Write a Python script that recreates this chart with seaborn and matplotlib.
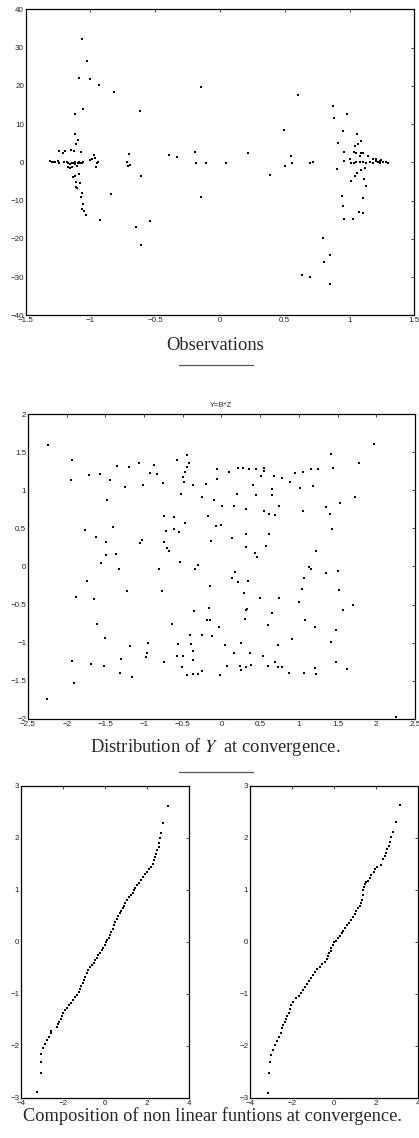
import numpy as np
import pandas as pd
import matplotlib
matplotlib.use("Agg")
import matplotlib.pyplot as plt
from matplotlib.lines import Line2D
from matplotlib.ticker import FuncFormatter
import seaborn as sns

# observations (top panel)
obs_x = [-1.064, -1.023, -1.087, -1.005, -0.933, -0.815, -1.059, -1.123, -1.116, -1.095,
         -1.108, -1.075, -1.150, -1.130, -1.240, -1.210, -1.197,
         -1.311, -1.298, -1.285, -1.272, -1.252, -1.242, -1.208, -1.183, -1.170, -1.157,
         -1.144, -1.131, -1.118, -1.098, -1.087, -1.077, -1.067, -1.054, -1.170, -1.157,
         -1.144, -1.123,
         -1.133, -1.118, -1.086, -1.100, -1.108, -1.108, -1.100, -1.082, -1.067, -1.075,
         -1.057, -1.062, -1.051, -1.031, -0.928,
         -1.000, -0.985, -0.972, -0.964, -0.950, -0.940, -0.960, -0.842,
         -0.720, -0.700, -0.710, -0.695, -0.621, -0.613, -0.652, -0.606, -0.544,
         -0.396, -0.334, -0.193, -0.188, -0.144, -0.144, -0.108, 0.046, 0.218, 0.388,
         0.496, 0.499, 0.550, 0.555, 0.599, 0.630, 0.692, 0.697, 0.720,
         0.794, 0.805, 0.848, 0.846, 0.871, 0.881, 0.907, 0.915, 0.977, 0.946, 0.959,
         0.961, 0.941, 0.951, 0.959, 1.008, 1.028, 1.003,
         1.059, 1.044, 1.062, 1.085, 1.033, 1.054, 1.090, 1.108, 1.140, 1.080, 1.044,
         1.059, 1.090, 1.110, 1.120, 1.105, 1.077, 1.105, 1.126,
         1.015, 1.033, 1.054, 1.080, 1.105, 1.131, 1.157, 1.183, 1.203, 1.221, 1.239,
         1.260, 1.280, 1.298, 1.183, 1.208, 1.234, 1.247]
obs_y = [32.3, 26.5, 22.1, 21.9, 20.3, 18.5, 13.9, 12.6, 7.5, 5.8,
         4.8, 2.6, 3.2, 3.0, 3.0, 2.4, 3.0,
         0.35, 0.09, 0.17, 0.0, 0.26, -0.09, 0.0, 0.0, -0.26, -0.44,
         -0.09, -0.26, 0.0, -0.17, 0.0, -0.26, -0.09, 0.09, -1.13, -1.57,
         -1.31, -0.52,
         -3.9, -3.7, -3.0, -1.0, -5.1, -6.4, -6.7, -5.3, -7.9, -9.1,
         -10.8, -12.2, -12.7, -13.8, -15.1,
         0.6, 1.0, 1.8, 1.2, -0.1, 0.0, -1.1, -8.3,
         0.2, 2.2, -0.9, -0.6, 13.3, -3.6, -16.8, -21.5, -15.3,
         2.0, 1.5, 2.7, -0.3, 19.7, -9.0, -0.1, -0.1, 2.4, -3.2,
         8.5, -1.0, 1.6, -0.1, 17.5, -29.4, -0.1, -29.9, 0.2,
         -19.7, -26.0, -24.1, -31.9, 14.8, 11.6, -1.8, 5.1, 12.7, 8.2, 2.8,
         0.4, -8.7, -11.4, -14.7, -4.9, -14.7, 0.9,
         7.4, 4.4, 4.7, 5.5, 2.8, 2.4, 2.4, 2.4, 1.7, 1.7, -3.6,
         -2.9, -2.0, -4.4, -1.6, -9.2, -13.0, -13.3, -6.1,
         -0.09, -0.09, 0.0, 0.0, 0.09, -0.17, 0.09, -0.09, 0.44, 0.17, -0.17,
         0.17, 0.0, -0.09, 0.78, 0.96, 0.35, 0.61]

# Y = B*Z (middle panel)
y1 = [-2.235, -1.934, -1.947, -1.710, -1.568, -1.443, -1.352, -1.189, -1.072, -1.249,
      -1.016, -0.922, -0.866, -0.835, -0.758, -0.577, -0.444, -0.426, -0.444, -0.469,
      -0.500, -0.478, -0.370, -0.517, -0.198, -0.052, -0.060, -0.250, -0.099, 0.099,
      0.207, 0.276, 0.353, 0.198, 0.004, 0.159, 0.405, 0.452, 0.508, 0.551,
      0.551, 0.680, 0.784, 0.887, 0.952, 1.059, 1.158, 1.253, 1.176, 1.012,
      0.650, 0.655, 0.452, 0.314, 0.551, 0.616, 0.689, 0.749, 1.055, 1.348,
      1.400, 1.533, 1.723, 1.413, 1.447, 1.779, 1.972, 1.426, 1.219, 1.128,
      1.163, 1.348, 1.503, 1.064, 1.038, 1.516, 1.003, 1.697, 1.576, 1.077,
      1.202, 1.477, 0.917, 1.417, 1.477, 1.628, 1.210, 1.223, 1.068, 0.870,
      0.780, 0.724, 0.689, 0.607, 0.724, 0.745, 0.659, 0.599, 0.500, 0.327,
      0.319, 0.306, 0.297, 0.349, 0.207, 0.181, 0.142, -0.146, -0.164, -0.146,
      -0.189, -0.125, -0.026, 0.039, 0.164, 0.250, 0.362, 0.530, 0.073, 0.241,
      0.254, 0.319, 0.379, -0.013, -0.254, -0.306, -0.370, -0.448, -0.370, -0.362,
      -0.396, -0.405, -0.254, -0.500, -0.508, -0.573, -0.556, -0.642, -0.357, -0.749,
      -0.956, -0.973, -0.952, -1.180, -1.296, -1.305, -1.150, -1.516, -1.684, -1.929,
      -1.908, -2.248, -1.499, -1.606, -1.641, -1.886, -1.736, -1.219, -1.326, -1.559,
      -1.490, -1.361, -1.494, -1.615, -1.761, -1.408, -1.481, -1.047, -1.021, -0.805,
      -0.767, -0.745, -0.711, -0.745, -0.698, -0.672, -0.616, -0.616, -0.547, -0.474,
      -0.538, -0.340, -0.301, -0.177, -0.138, -0.069, -0.004, 0.138, 0.314, 0.314,
      0.439, 0.465, 0.581, 0.611, 2.250]
y2 = [1.587, 1.403, 1.137, 1.202, 1.211, 1.137, 1.320, 1.311, 1.355, 1.049,
      1.075, 1.224, 1.329, 1.215, 1.097, 1.395, 1.456, 1.355, 1.303, 1.233,
      1.180, 1.110, 1.071, 0.949, 1.084, 1.281, 1.145, 0.909, 0.874, 1.233,
      1.294, 1.290, 1.281, 0.957, 0.796, 0.791, 1.071, 1.281, 1.189, 1.290,
      1.255, 1.193, 1.163, 1.102, 1.224, 1.237, 1.281, 1.277, 1.058, 1.023,
      1.014, 0.936, 0.940, 0.752, 0.734, 0.695, 0.673, 0.787, 0.726, 0.783,
      0.686, 0.839, 0.905, 1.478, 1.294, 1.360, 1.613, 0.490, 0.205, -0.004,
      -0.031, -0.083, -0.057, -0.149, -0.289, -0.302, -0.468, -0.503, -0.568, -0.704,
      -0.796, -0.839, -0.949, -0.984, -1.255, -1.342, -1.333, -1.412, -1.395, -1.395,
      -1.320, -1.320, -1.259, -1.303, -1.027, -0.415, -0.608, -0.761, -0.415, -0.555,
      -0.577, -0.695, -0.350, -0.184, -0.205, -0.066, -0.153, -0.258, -0.546, -0.708,
      -0.708, -0.918, -0.791, -1.027, -1.132, -0.997, -1.137, -1.180, -1.311, -1.303,
      -1.355, -1.320, -1.298, -1.429, -1.368, -1.408, -1.416, -1.421, -1.228, -1.110,
      -1.014, -0.892, -0.892, -1.180, -1.320, -1.176, -1.019, -0.748, -0.590, -1.255,
      -1.137, -1.189, -1.005, -1.049, -1.215, -1.399, -1.443, -1.311, -1.285, -1.233,
      -1.530, -1.744, -0.940, -0.756, -0.424, -0.402, -0.188, -0.323, -0.031, 0.044,
      0.153, 0.162, 0.323, 0.393, 0.477, 0.520, 0.874, 0.306, 0.350, -0.039,
      -0.323, 0.664, 0.468, 0.315, 0.249, 0.205, 0.643, 0.494, 0.446, 0.564,
      0.061, -0.031, 0.026, 0.664, 0.337, 0.525, 0.546, 0.380, 0.428, 0.258,
      0.175, 0.118, 0.271, 0.428, -1.980]

# composition of non linear functions (bottom panels)
left_x = [3.0, 2.75, 2.65, 2.63, 2.59, 2.55, 2.49, 2.43, 2.38, 2.33, 2.27, 2.21, 2.08, 1.98,
          1.92, 1.82, 1.73, 1.60, 1.51, 1.41,
          1.381, 1.317, 1.254, 1.159, 1.063, 0.968, 0.905, 0.841, 0.778, 0.714, 0.619, 0.556,
          0.492, 0.429, 0.365, 0.302, 0.238, 0.175, 0.111, 0.048, -0.016, -0.079, -0.143,
          -0.238, -0.333, -0.397, -0.460, -0.524, -0.619, -0.714, -0.810, -0.873, -0.937,
          -1.0, -1.063, -1.127, -1.190, -1.254, -1.349, -1.413, -1.508, -1.635, -1.698,
          -1.794, -1.889, -1.984, -2.048, -2.111, -2.175, -2.238, -2.302,
          -2.556, -2.556, -2.651, -2.746, -2.873, -2.968, -3.063, -3.063, -3.063, -3.222]
left_y = [2.615, 2.28, 2.10, 1.99, 1.90, 1.83, 1.77, 1.69, 1.63, 1.58, 1.50, 1.45, 1.40, 1.35,
          1.30, 1.24, 1.19, 1.14, 1.09, 1.03,
          1.0, 0.949, 0.904, 0.859, 0.808, 0.744, 0.692, 0.647, 0.603, 0.551, 0.5, 0.449,
          0.385, 0.321, 0.256, 0.199, 0.135, 0.083, 0.038, -0.007, -0.058, -0.109, -0.154,
          -0.205, -0.25, -0.301, -0.346, -0.398, -0.443, -0.488, -0.539, -0.603, -0.667,
          -0.731, -0.795, -0.847, -0.898, -0.962, -1.019, -1.064, -1.116, -1.167, -1.212,
          -1.263, -1.308, -1.372, -1.423, -1.474, -1.532, -1.584, -1.641,
          -1.705, -1.757, -1.821, -1.885, -1.962, -2.039, -2.154, -2.302, -2.513, -2.878]

right_x = [3.159, 2.952, 2.794, 2.730, 2.667, 2.603, 2.540, 2.476, 2.413, 2.349, 2.254, 2.032,
           1.968, 1.905, 1.778, 1.714, 1.619, 1.524, 1.460,
           1.429, 1.397, 1.365, 1.333, 1.302, 1.238, 1.143, 1.048, 0.984, 0.921, 0.825, 0.730,
           0.635, 0.540, 0.444, 0.381, 0.286, 0.190, 0.095, 0.0, -0.063, -0.127, -0.159,
           -0.222, -0.286, -0.349, -0.444, -0.571, -0.667, -0.794, -0.921, -1.016, -1.079,
           -1.206, -1.302, -1.397, -1.460, -1.556, -1.683, -1.810, -1.937, -2.032, -2.095,
           -2.159, -2.222, -2.286, -2.349, -2.413, -2.476, -2.540,
           -2.635, -2.730, -2.825, -2.921, -3.016, -3.048, -3.079, -3.143]
right_y = [2.641, 2.301, 2.115, 2.012, 1.923, 1.846, 1.782, 1.718, 1.660, 1.602, 1.474, 1.436,
           1.397, 1.346, 1.288, 1.231, 1.179, 1.154, 1.115,
           1.064, 1.0, 0.904, 0.808, 0.744, 0.692, 0.647, 0.603, 0.538, 0.474, 0.423, 0.372,
           0.321, 0.269, 0.218, 0.167, 0.115, 0.07, 0.025, -0.007, -0.058, -0.109, -0.167,
           -0.218, -0.27, -0.321, -0.379, -0.43, -0.475, -0.526, -0.584, -0.635, -0.693,
           -0.757, -0.808, -0.859, -0.923, -0.975, -1.032, -1.084, -1.148, -1.218, -1.295,
           -1.372, -1.423, -1.474, -1.532, -1.596, -1.66, -1.744,
           -1.834, -1.911, -1.981, -2.077, -2.173, -2.302, -2.513, -2.911]

sns.set_theme(style="white")
plt.rcParams['font.family'] = ['Liberation Sans', 'DejaVu Sans']
plt.rcParams['mathtext.fontset'] = 'stix'
plt.rcParams.update({
    'xtick.direction': 'in', 'ytick.direction': 'in',
    'xtick.top': True, 'ytick.right': True,
    'xtick.major.size': 2, 'ytick.major.size': 2,
    'xtick.major.width': 0.6, 'ytick.major.width': 0.6,
    'xtick.major.pad': 1.2, 'ytick.major.pad': 1.2,
    'xtick.labelsize': 5.8, 'ytick.labelsize': 5.8,
    'xtick.color': '#222222', 'ytick.color': '#222222',
    'axes.edgecolor': 'black', 'axes.linewidth': 0.9,
})

fmt = FuncFormatter(lambda v, p: ('%g' % v).replace('-', '\u2212'))


def dots(ax, x, y, xlim, ylim, xticks, yticks, s=2.0):
    df = pd.DataFrame({'x': x, 'y': y})
    sns.scatterplot(data=df, x='x', y='y', ax=ax, s=s, marker='s',
                    color='black', linewidth=0, legend=False)
    ax.set_xlim(xlim)
    ax.set_ylim(ylim)
    ax.set_xticks(xticks)
    ax.set_yticks(yticks)
    ax.xaxis.set_major_formatter(fmt)
    ax.yaxis.set_major_formatter(fmt)
    ax.set_xlabel('')
    ax.set_ylabel('')


fig = plt.figure(figsize=(4.19, 11.38), dpi=100)

ax1 = fig.add_axes([0.0613, 0.7229, 0.9274, 0.2689])
dots(ax1, obs_x, obs_y, (-1.5, 1.5), (-40, 40),
     np.arange(-1.5, 1.51, 0.5), np.arange(-40, 41, 10))

ax2 = fig.add_axes([0.0668, 0.3682, 0.9236, 0.2680])
dots(ax2, y1, y2, (-2.5, 2.5), (-2, 2),
     np.arange(-2.5, 2.51, 0.5), np.arange(-2, 2.01, 0.5))
ax2.set_title('Y=B*Z', fontsize=5.5, pad=5)

ax3 = fig.add_axes([0.0501, 0.0352, 0.4010, 0.2742])
dots(ax3, left_x, left_y, (-4, 4), (-3, 3), [-4, -2, 0, 2, 4], [-3, -2, -1, 0, 1, 2, 3], s=4)

ax4 = fig.add_axes([0.5967, 0.0352, 0.4010, 0.2742])
dots(ax4, right_x, right_y, (-4, 4), (-3, 3), [-4, -2, 0, 2, 4], [-3, -2, -1, 0, 1, 2, 3], s=4)

serif = ['Liberation Serif', 'DejaVu Serif']
fig.text(0.513, 0.6968, 'Observations', ha='center', va='center', fontsize=13.3, family=serif)
fig.text(0.513, 0.3436, 'Distribution of $Y$  at convergence.', ha='center', va='center',
         fontsize=13.3, family=serif)
fig.text(0.508, 0.0195, 'Composition of non linear funtions at convergence.', ha='center',
         va='center', fontsize=13.2, family=serif)

for yy in (0.6793, 0.3216):
    fig.add_artist(Line2D([0.427, 0.604], [yy, yy], transform=fig.transFigure,
                          color='#555555', linewidth=0.9))

fig.savefig('out.png', dpi=100)
